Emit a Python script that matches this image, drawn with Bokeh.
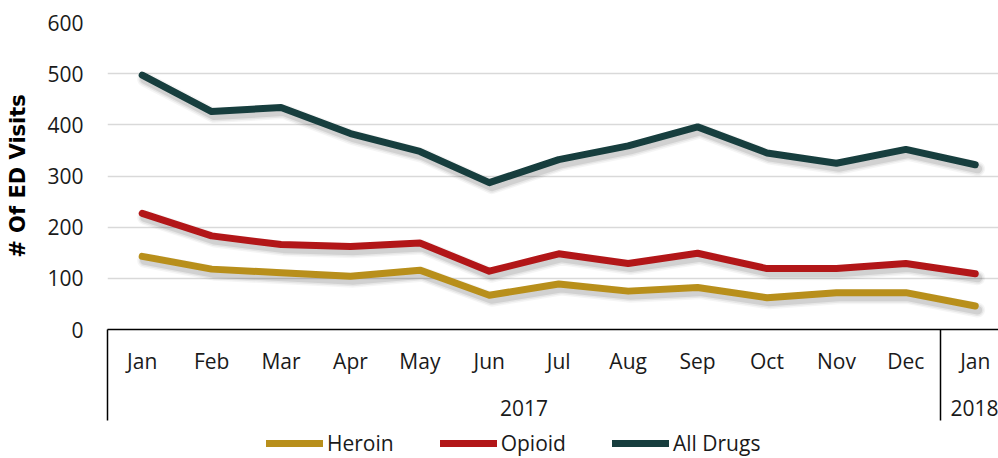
from bokeh.plotting import figure
from bokeh.layouts import column
from bokeh.models import (ColumnDataSource, Range1d, FixedTicker, LinearAxis,
                          Legend, LegendItem)
from bokeh.transform import dodge
from bokeh.embed import file_html
from bokeh.resources import INLINE

# Monthly emergency-department visit counts
months = ["Jan", "Feb", "Mar", "Apr", "May", "Jun", "Jul",
          "Aug", "Sep", "Oct", "Nov", "Dec", "Jan"]
year_labels = ["2017", "2018"]
months_per_year = [12, 1]

heroin = [143, 118, 111, 104, 116, 67, 89, 75, 82, 62, 72, 72, 46]
opioid = [227, 183, 166, 162, 169, 114, 148, 129, 149, 119, 119, 129, 109]
all_drugs = [497, 426, 434, 383, 348, 287, 332, 359, 396, 345, 325, 352, 322]

y_ticks = [0, 100, 200, 300, 400, 500, 600]

FONT = "Open Sans"
TEXT = "#1a1a1a"
COLORS = {"Heroin": "#b88f1b", "Opioid": "#b21618", "All Drugs": "#173e3e"}

idx = list(range(len(months)))
src = ColumnDataSource(dict(x=idx, heroin=heroin, opioid=opioid, all_drugs=all_drugs))

# one unit per month; the right edge runs slightly past the last month
x_range = Range1d(-0.5, 12.335)
y_range = Range1d(0, 600)

p = figure(width=998, height=433, x_range=x_range, y_range=y_range,
           output_backend="svg", toolbar_location=None, x_axis_location=None,
           min_border_left=107, min_border_right=0, min_border_top=22,
           min_border_bottom=104)
p.outline_line_color = None
p.background_fill_color = "white"
p.border_fill_color = "white"

# y axis: labels only
yax = p.yaxis[0]
yax.ticker = FixedTicker(ticks=y_ticks)
yax.axis_line_color = None
yax.major_tick_line_color = None
yax.minor_tick_line_color = None
yax.major_tick_in = 0
yax.major_tick_out = 0
yax.major_label_standoff = 24
yax.major_label_text_font = FONT
yax.major_label_text_font_size = "21px"
yax.major_label_text_color = TEXT
yax.axis_label = "# Of ED Visits"
yax.axis_label_text_font = "DejaVu Sans"
yax.axis_label_text_font_style = "bold"
yax.axis_label_text_font_size = "21px"
yax.axis_label_text_color = "#000000"
yax.axis_label_standoff = 14

p.xgrid.grid_line_color = None
p.ygrid.grid_line_color = "#d9d9d9"
p.ygrid.grid_line_width = 1.5
p.ygrid.ticker = FixedTicker(ticks=y_ticks)

# month axis
month_axis = LinearAxis(
    ticker=FixedTicker(ticks=idx),
    major_label_overrides={i: m for i, m in enumerate(months)},
    axis_line_color="black", axis_line_width=1.5,
    major_tick_line_color=None, minor_tick_line_color=None,
    major_tick_in=0, major_tick_out=0,
    major_label_standoff=17,
    major_label_text_font=FONT, major_label_text_font_size="21px",
    major_label_text_color=TEXT,
)
p.add_layout(month_axis, "below")

# year axis centred under each group of months
year_starts = [sum(months_per_year[:i]) for i in range(len(months_per_year))]
year_pos = [s + (n - 1) / 2 for s, n in zip(year_starts, months_per_year)]
year_axis = LinearAxis(
    ticker=FixedTicker(ticks=year_pos),
    major_label_overrides={pos: y for pos, y in zip(year_pos, year_labels)},
    axis_line_color=None, major_tick_line_color=None, minor_tick_line_color=None,
    major_tick_in=0, major_tick_out=0,
    major_label_standoff=22,
    major_label_text_font=FONT, major_label_text_font_size="21px",
    major_label_text_color=TEXT,
)
p.add_layout(year_axis, "below")

# group separators: ticks reaching up through both label rows
separators = [s - 0.5 for s in year_starts]
sep_axis = LinearAxis(
    ticker=FixedTicker(ticks=separators),
    major_label_overrides={s: "" for s in separators},
    major_label_text_font_size="0px", major_label_standoff=0,
    axis_line_color=None, minor_tick_line_color=None,
    major_tick_line_color="black", major_tick_line_width=1.5,
    major_tick_in=89, major_tick_out=2,
)
p.add_layout(sep_axis, "below")

series = [("Heroin", "heroin"), ("Opioid", "opioid"), ("All Drugs", "all_drugs")]

# soft drop shadows beneath the lines
for name, col in series:
    for w, a in [(15, 0.04), (12, 0.06), (9, 0.09)]:
        p.line(x=dodge("x", 0.035, range=p.x_range), y=dodge(col, -8, range=p.y_range),
               source=src, line_width=w, line_alpha=a, line_color="black",
               line_join="round", line_cap="round")

for name, col in series:
    p.line(x="x", y=col, source=src, line_width=7, line_color=COLORS[name],
           line_join="round", line_cap="round")

# legend strip underneath the chart (its frame lines up with the chart's)
leg = figure(width=998, height=25, x_range=Range1d(0, 1), y_range=Range1d(0, 1),
             output_backend="svg", toolbar_location=None,
             x_axis_location=None, y_axis_location=None,
             min_border_left=0, min_border_right=0, min_border_top=0,
             min_border_bottom=0)
leg.outline_line_color = None
leg.xgrid.visible = False
leg.ygrid.visible = False

nan = float("nan")
swatches = {}
for name, _ in series:
    swatches[name] = leg.line(x=[nan, nan], y=[nan, nan], line_width=7,
                              line_color=COLORS[name], line_cap="round")

legend = Legend(
    items=[LegendItem(label=name, renderers=[swatches[name]]) for name, _ in series],
    orientation="horizontal", location=(159, 1),
    border_line_color=None, background_fill_alpha=0,
    glyph_width=57, glyph_height=24, label_height=24, label_standoff=4,
    label_width=1, spacing=46, padding=0, margin=0,
    label_text_font=FONT, label_text_font_size="21px", label_text_color=TEXT,
)
leg.add_layout(legend)

layout = column(p, leg, spacing=0)
open("out.html", "w").write(file_html(layout, INLINE))
